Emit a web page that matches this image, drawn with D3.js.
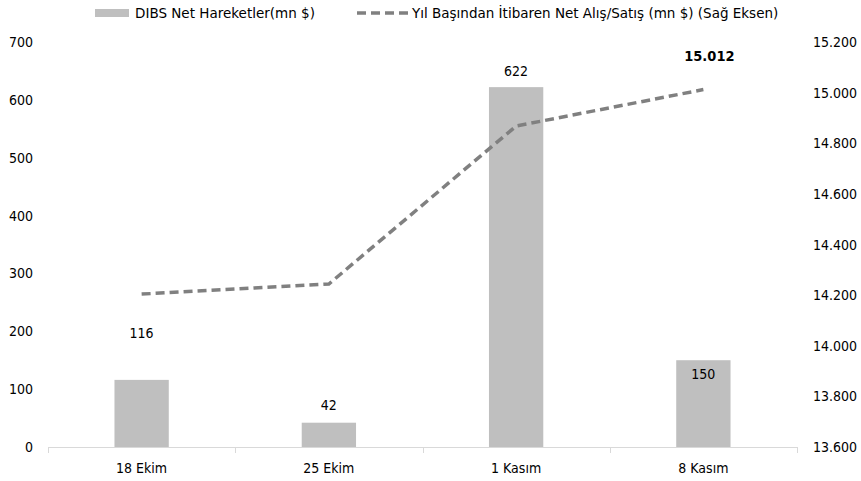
<!DOCTYPE html>
<html>
<head>
<meta charset="utf-8">
<script src="https://cdn.jsdelivr.net/npm/d3@7"></script>
<style>
  body { margin: 0; background: #fff; }
  text { font-family: "DejaVu Sans Condensed", "DejaVu Sans", sans-serif; fill: #000; }
</style>
</head>
<body>
<svg id="chart"></svg>
<script>
// data
var weeks = ["18 Ekim", "25 Ekim", "1 Kasım", "8 Kasım"];
var netFlow = [116, 42, 622, 150];              // DIBS Net Hareketler (mn $)
var ytdFlow = [14204, 14244, 14868, 15012];     // Yıl başından itibaren (mn $)
var leftTicks = [0, 100, 200, 300, 400, 500, 600, 700];
var rightTicks = [13600, 13800, 14000, 14200, 14400, 14600, 14800, 15000, 15200];

function draw() {
  var W = 861, H = 481;
  var svg = d3.select("#chart").attr("width", W).attr("height", H);

  var pL = 48, pR = 797, pT = 42, pB = 447;

  var x = d3.scaleBand().domain(weeks).range([pL, pR]).paddingInner(0.71).paddingOuter(0.355);
  var xb = d3.scaleBand().domain(weeks).range([pL, pR]);
  var yL = d3.scaleLinear().domain([0, 700]).range([pB, pT]);
  var yR = d3.scaleLinear().domain([13600, 15200]).range([pB, pT]);

  var fmtR = function(v) { return d3.format(",.0f")(v).replace(/,/g, "."); };

  // bars
  svg.selectAll("rect.bar").data(netFlow).enter().append("rect")
      .attr("class", "bar")
      .attr("x", function(d, i) { return x(weeks[i]); })
      .attr("width", x.bandwidth())
      .attr("y", function(d) { return yL(d); })
      .attr("height", function(d) { return pB - yL(d); })
      .attr("fill", "#bfbfbf");

  // x axis baseline and ticks
  svg.append("line").attr("x1", pL).attr("x2", pR).attr("y1", pB + 0.5).attr("y2", pB + 0.5)
      .attr("stroke", "#d9d9d9").attr("stroke-width", 1);
  var bounds = weeks.map(function(w) { return xb(w); }).concat([pR]);
  svg.selectAll("line.xt").data(bounds).enter().append("line")
      .attr("x1", function(d) { return Math.round(d) + 0.5; })
      .attr("x2", function(d) { return Math.round(d) + 0.5; })
      .attr("y1", pB).attr("y2", pB + 6)
      .attr("stroke", "#d9d9d9");

  svg.selectAll("text.xl").data(weeks).enter().append("text")
      .attr("x", function(d) { return xb(d) + xb.bandwidth() / 2; })
      .attr("y", pB + 26)
      .attr("text-anchor", "middle")
      .style("font-size", "14px")
      .text(function(d) { return d; });

  // left axis labels
  svg.selectAll("text.yl").data(leftTicks).enter().append("text")
      .attr("x", 33)
      .attr("y", function(d) { return yL(d) + 5; })
      .attr("text-anchor", "end")
      .style("font-size", "14px")
      .text(function(d) { return d; });

  // right axis labels
  svg.selectAll("text.yr").data(rightTicks).enter().append("text")
      .attr("x", 813)
      .attr("y", function(d) { return yR(d) + 5; })
      .style("font-size", "14px")
      .text(fmtR);

  // line
  var cx = function(i) { return xb(weeks[i]) + xb.bandwidth() / 2; };
  var line = d3.line()
      .x(function(d, i) { return cx(i); })
      .y(function(d) { return yR(d); });
  svg.append("path").datum(ytdFlow)
      .attr("d", line)
      .attr("fill", "none")
      .attr("stroke", "#808080")
      .attr("stroke-width", 3.5)
      .attr("stroke-dasharray", "9,5");

  // bar value labels (first one lifted clear of the line, last one inside)
  var labelShift = [-42, -13, -11, 19];
  svg.selectAll("text.bv").data(netFlow).enter().append("text")
      .attr("x", function(d, i) { return cx(i); })
      .attr("y", function(d, i) { return yL(d) + labelShift[i]; })
      .attr("text-anchor", "middle")
      .style("font-size", "14px")
      .text(function(d) { return d; });

  // last point label
  svg.append("text")
      .attr("x", cx(3) + 6)
      .attr("y", yR(ytdFlow[3]) - 29)
      .attr("text-anchor", "middle")
      .style("font-size", "14.5px")
      .style("font-weight", "bold")
      .text(fmtR(ytdFlow[3]));

  // legend
  var lg = svg.append("g");
  lg.append("rect").attr("x", 95).attr("y", 9).attr("width", 34).attr("height", 8).attr("fill", "#bfbfbf");
  lg.append("text").attr("x", 135).attr("y", 18).style("font-size", "13.5px").style("font-family", "DejaVu Sans")
      .text("DIBS Net Hareketler(mn $)");
  lg.append("line").attr("x1", 357).attr("x2", 408).attr("y1", 13).attr("y2", 13)
      .attr("stroke", "#808080").attr("stroke-width", 3.5).attr("stroke-dasharray", "9,5");
  lg.append("text").attr("x", 412).attr("y", 18).style("font-size", "13.5px").style("font-family", "DejaVu Sans")
      .text("Yıl Başından İtibaren Net Alış/Satış (mn $) (Sağ Eksen)");
}
draw();
</script>
</body>
</html>
